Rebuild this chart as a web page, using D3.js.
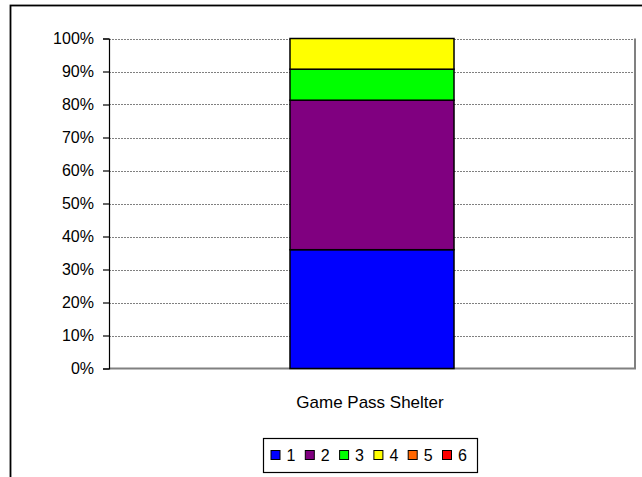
<!DOCTYPE html>
<html>
<head>
<meta charset="utf-8">
<script src="https://cdn.jsdelivr.net/npm/d3@7"></script>
<style>
  html, body { margin: 0; padding: 0; background: #fff; }
  svg { display: block; font-family: Arial, "Liberation Sans", sans-serif; }
</style>
</head>
<body>
<svg id="chart" width="642" height="477"></svg>
<script>
// Share of each rating (1–6) for the single category, in percent
const categories = ["Game Pass Shelter"];
const seriesNames = ["1", "2", "3", "4", "5", "6"];
const seriesValues = [36.0, 45.3, 9.4, 9.3, 0, 0];
const seriesColors = ["#0000FF", "#800080", "#00FF00", "#FFFF00", "#FF6600", "#FF0000"];
const yTicks = [0, 10, 20, 30, 40, 50, 60, 70, 80, 90, 100];

const svg = d3.select("#chart");

// Outer chart frame (runs off the right and bottom edges)
svg.append("rect")
  .attr("x", 10.5).attr("y", 5.5)
  .attr("width", 700).attr("height", 520)
  .attr("fill", "#fff")
  .attr("stroke", "#000").attr("stroke-width", 1.8);

const plot = { left: 109, right: 635, top: 38.5, bottom: 368.5 };

const x = d3.scaleBand()
  .domain(categories)
  .range([plot.left, plot.right])
  .paddingInner(0.5246)
  .paddingOuter(0.5246);

const y = d3.scaleLinear()
  .domain([0, 100])
  .range([plot.bottom, plot.top]);

// Horizontal gridlines
svg.append("g")
  .selectAll("line")
  .data(yTicks.filter(d => d > 0))
  .join("line")
  .attr("x1", plot.left).attr("x2", plot.right)
  .attr("y1", d => Math.round(y(d)) + 0.5).attr("y2", d => Math.round(y(d)) + 0.5)
  .attr("stroke", "#808080").attr("stroke-width", 1)
  .attr("stroke-dasharray", "2,1");

// Plot area border (right and bottom)
svg.append("path")
  .attr("d", `M${plot.right},${plot.top}V${plot.bottom}H${plot.left}`)
  .attr("fill", "none")
  .attr("stroke", "#808080").attr("stroke-width", 2);

// Stacked bar
const rows = categories.map(c => {
  const r = { category: c };
  seriesNames.forEach((s, i) => { r[s] = seriesValues[i]; });
  return r;
});
const stacked = d3.stack().keys(seriesNames)(rows);

svg.append("g")
  .selectAll("g")
  .data(stacked)
  .join("g")
  .attr("fill", (d, i) => seriesColors[i])
  .selectAll("rect")
  .data(d => d.filter(p => p[1] - p[0] > 0))
  .join("rect")
  .attr("x", d => x(d.data.category))
  .attr("width", x.bandwidth())
  .attr("y", d => y(d[1]))
  .attr("height", d => y(d[0]) - y(d[1]))
  .attr("stroke", "#000").attr("stroke-width", 1.5);

// Y axis
const yAxis = d3.axisLeft(y)
  .tickValues(yTicks)
  .tickFormat(d => d + "%")
  .tickSize(6)
  .tickPadding(9);

const yg = svg.append("g")
  .attr("transform", `translate(${plot.left},0)`)
  .call(yAxis);
yg.select(".domain").attr("stroke", "#000").attr("stroke-width", 1.2);
yg.selectAll(".tick line").attr("stroke", "#000").attr("stroke-width", 1.2);
yg.selectAll(".tick text")
  .attr("fill", "#000")
  .style("font-size", "16px")
  .style("font-family", "Arial, 'Liberation Sans', sans-serif");

// Category label
svg.append("g")
  .selectAll("text")
  .data(categories)
  .join("text")
  .attr("x", d => x(d) + x.bandwidth() / 2 - 2)
  .attr("y", 408)
  .attr("text-anchor", "middle")
  .attr("font-size", 17)
  .attr("fill", "#000")
  .text(d => d);

// Legend
const legend = svg.append("g");
legend.append("rect")
  .attr("x", 263.5).attr("y", 438.5)
  .attr("width", 214).attr("height", 34)
  .attr("fill", "#fff")
  .attr("stroke", "#000").attr("stroke-width", 1.2);

const item = legend.selectAll("g.item")
  .data(seriesNames)
  .join("g")
  .attr("class", "item")
  .attr("transform", (d, i) => `translate(${270.5 + i * 34.3},0)`);

item.append("rect")
  .attr("x", 0.5).attr("y", 450.5)
  .attr("width", 9).attr("height", 9)
  .attr("fill", (d, i) => seriesColors[i])
  .attr("stroke", "#000").attr("stroke-width", 1);

item.append("text")
  .attr("x", 16).attr("y", 461)
  .attr("font-size", 16)
  .attr("fill", "#000")
  .text(d => d);
</script>
</body>
</html>
